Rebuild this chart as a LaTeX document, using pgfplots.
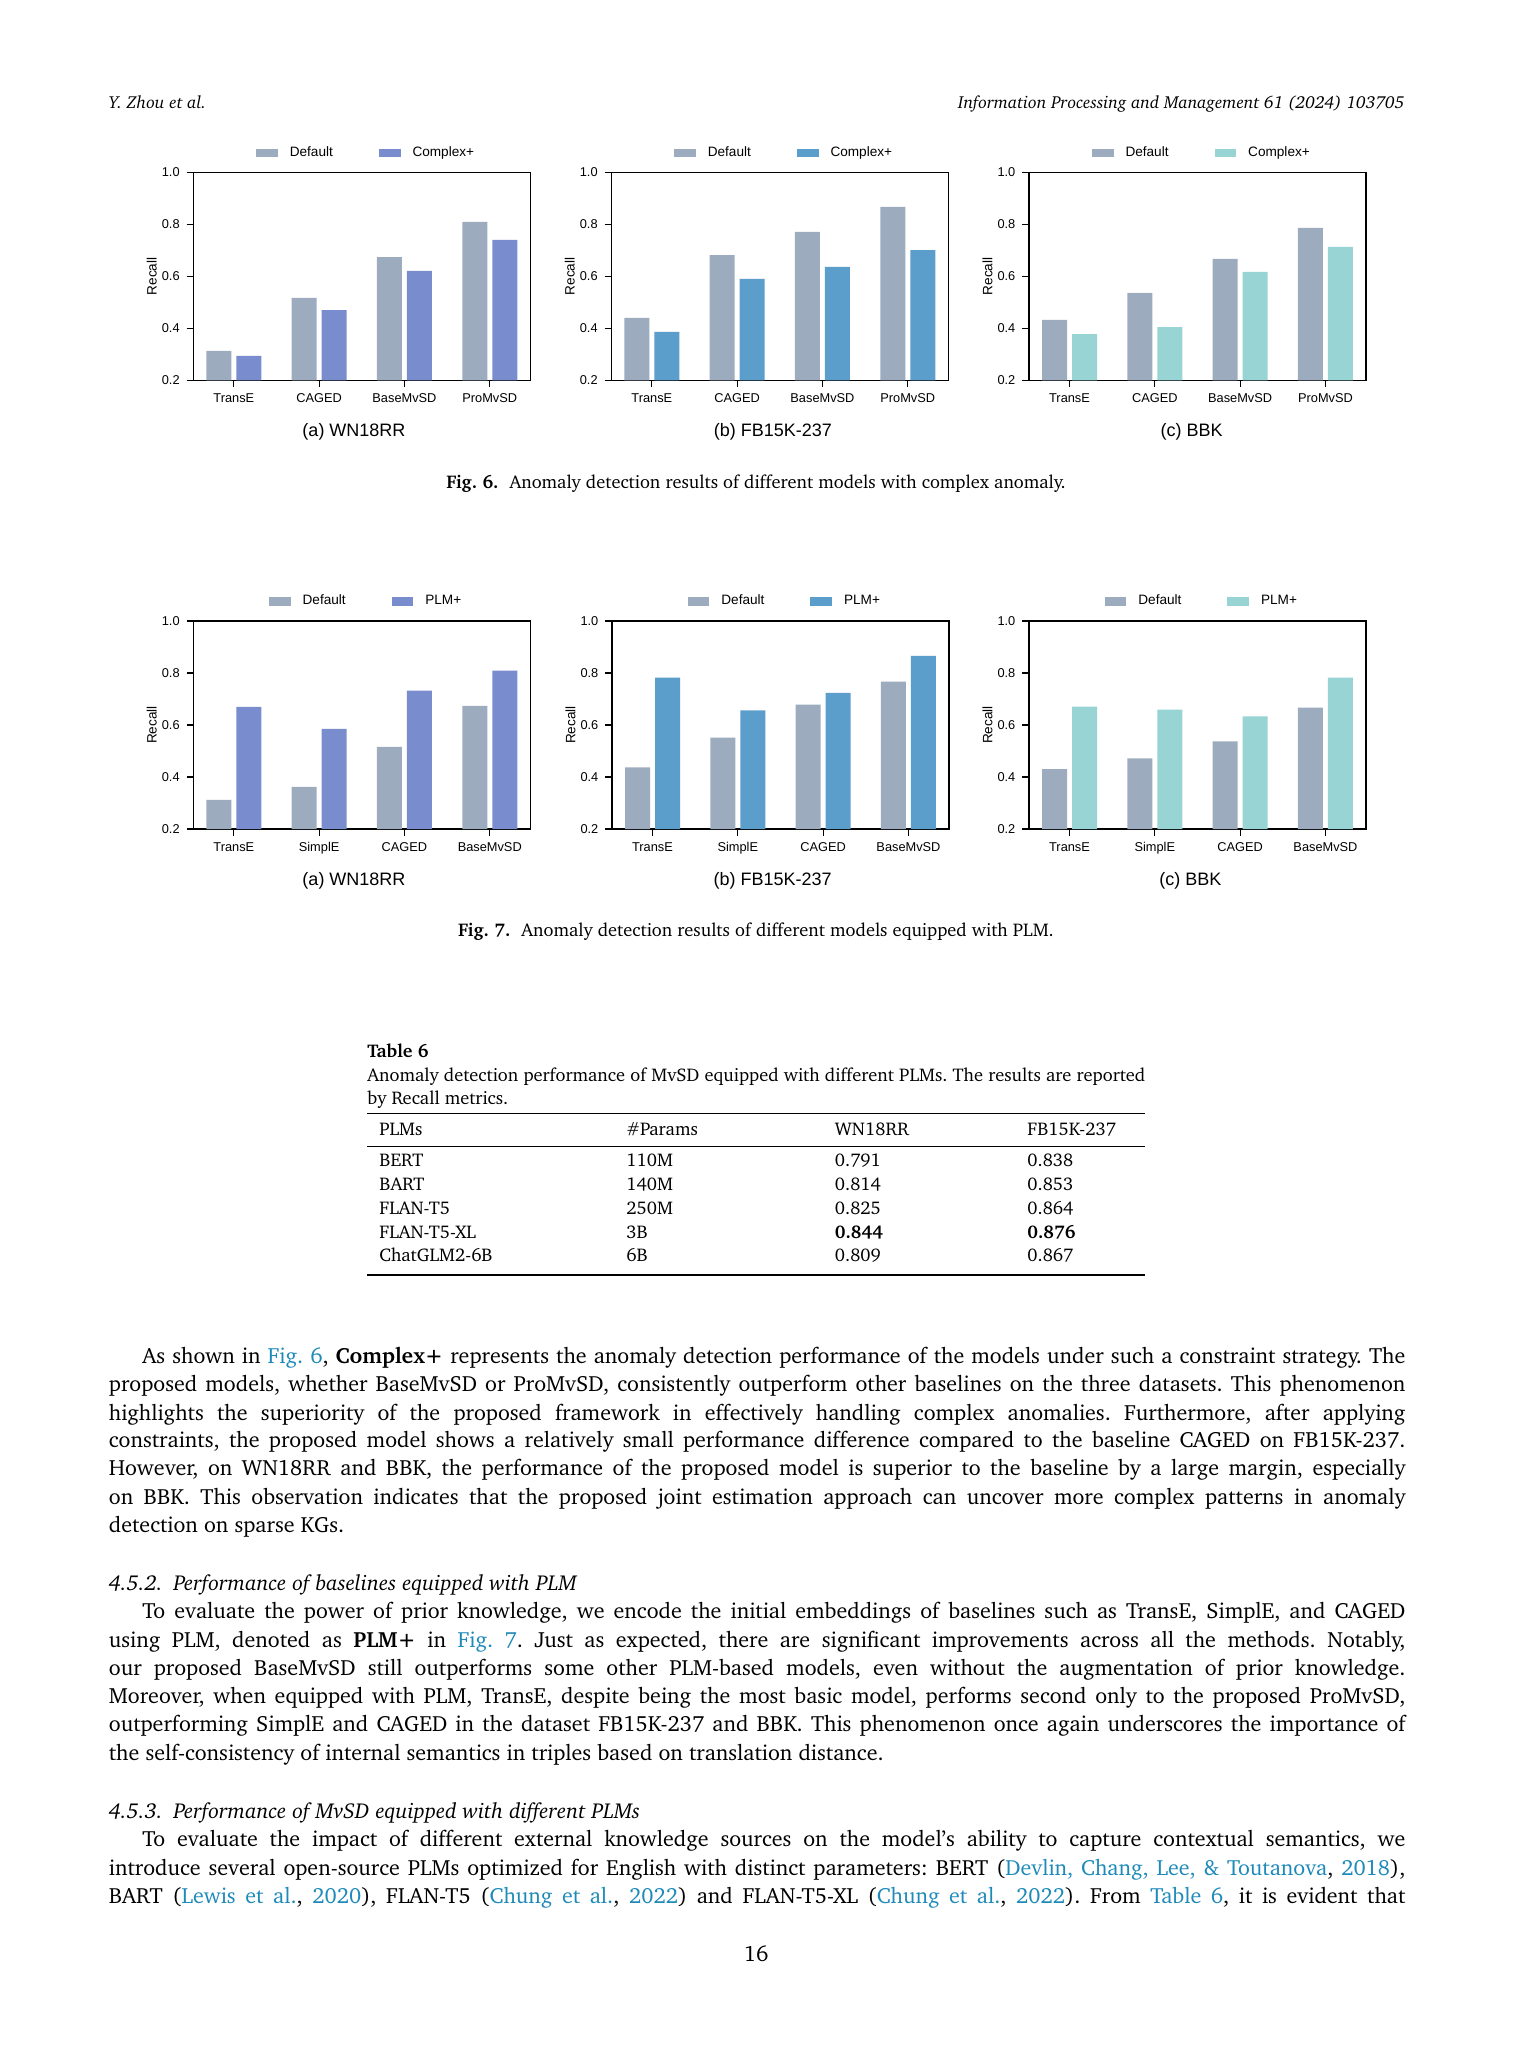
\documentclass[border=0pt]{standalone}
\usepackage[T1]{fontenc}
\usepackage{fontspec}
\setsansfont{Liberation Sans}
\usepackage{pgfplots}
\pgfplotsset{compat=1.18}
\definecolor{defc}{RGB}{157,171,190}
\definecolor{wnc}{RGB}{120,140,206}
\definecolor{fbc}{RGB}{92,158,203}
\definecolor{bbc}{RGB}{152,212,212}
\definecolor{linkc}{RGB}{30,138,185}
\frenchspacing
\newcommand\ch{\fontencoding{T1}\fontfamily{bch}\selectfont}
\newcommand\bodyf{\ch\fontsize{11pt}{14pt}\selectfont}
\newcommand\headf{\ch\fontsize{10.8pt}{14pt}\selectfont}
\newcommand\capf{\ch\fontsize{9.2pt}{11pt}\selectfont}
\newcommand\hdf{\ch\fontsize{8.7pt}{11pt}\selectfont}
\newcommand\lk[1]{\textcolor{linkc}{#1}}
\newcommand\BL[4]{\node[anchor=base west,inner sep=0pt] at (#1,#2) {\bodyf\makebox[#3][s]{#4}};}
\newcommand\LL[3]{\node[anchor=base west,inner sep=0pt] at (#1,#2) {\bodyf #3};}
\newcommand\sub[3]{\node[anchor=center,inner sep=0pt,font=\fontsize{9pt}{10pt}\selectfont\sffamily] at (#1,#2) {#3};}
\pgfplotsset{
 recall/.style={
  scale only axis, width=168.5pt, height=104pt, anchor=south west,
  xmin=-0.475, xmax=3.475, ymin=0.2, ymax=1.0,
  xtick={0,1,2,3}, ytick={0.2,0.4,0.6,0.8,1.0},
  tick align=outside, tick pos=left,
  major tick length=3.3pt,
  axis line style={line width=0.6pt, black},
  tick style={line width=0.6pt, black},
  tick label style={font=\fontsize{6.4pt}{7pt}\selectfont\sffamily},
  /pgf/number format/assume math mode=true,
  yticklabel style={/pgf/number format/fixed, /pgf/number format/fixed zerofill, /pgf/number format/precision=1},
  ylabel={Recall},
  every axis y label/.style={at={(axis description cs:0,0.5)}, xshift=-20.8pt, rotate=90, anchor=center, font=\fontsize{6.8pt}{7pt}\selectfont\sffamily},
  legend columns=2,
  legend cell align=left,
  legend style={at={(0.51,1.094)}, anchor=center, draw=none, fill=none, font=\fontsize{6.8pt}{7pt}\selectfont\sffamily, /tikz/every odd column/.append style={column sep=6pt}, /tikz/every even column/.append style={column sep=23pt}, nodes={inner sep=0pt}},
  legend image code/.code={\fill[##1] (0pt,-2.1pt) rectangle (10.8pt,2.1pt);},
 },
 dbar/.style={ybar, bar width=0.293, bar shift=-0.176, fill=defc, draw=none},
 pbar/.style={ybar, bar width=0.293, bar shift=0.176, fill=#1, draw=none},
}
\begin{document}
\begin{tikzpicture}
\begin{scope}[x=0.5pt,y=-0.5pt]
\fill[white] (0,0) rectangle (1512,2063);
\end{scope}
% ---------- Fig 6 ----------
\begin{axis}[recall, at={(96.65pt,-190.15pt)}, xticklabels={TransE,CAGED,BaseMvSD,ProMvSD}]
\addplot[dbar] coordinates {(0,0.313) (1,0.517) (2,0.674) (3,0.809)};
\addplot[pbar=wnc] coordinates {(0,0.294) (1,0.470) (2,0.621) (3,0.740)};
\legend{Default,Complex+}
\end{axis}
\begin{axis}[recall, at={(305.65pt,-190.15pt)}, xticklabels={TransE,CAGED,BaseMvSD,ProMvSD}]
\addplot[dbar] coordinates {(0,0.440) (1,0.682) (2,0.771) (3,0.867)};
\addplot[pbar=fbc] coordinates {(0,0.386) (1,0.590) (2,0.636) (3,0.701)};
\legend{Default,Complex+}
\end{axis}
\begin{axis}[recall, at={(514.5pt,-190.15pt)}, xticklabels={TransE,CAGED,BaseMvSD,ProMvSD}]
\addplot[dbar] coordinates {(0,0.432) (1,0.536) (2,0.667) (3,0.786)};
\addplot[pbar=bbc] coordinates {(0,0.378) (1,0.405) (2,0.617) (3,0.713)};
\legend{Default,Complex+}
\end{axis}
% ---------- Fig 7 ----------
\begin{axis}[recall, at={(96.65pt,-414.5pt)}, xticklabels={TransE,SimplE,CAGED,BaseMvSD}]
\addplot[dbar] coordinates {(0,0.312) (1,0.362) (2,0.516) (3,0.674)};
\addplot[pbar=wnc] coordinates {(0,0.670) (1,0.585) (2,0.732) (3,0.809)};
\legend{Default,PLM+}
\end{axis}
\begin{axis}[recall, at={(306pt,-414.5pt)}, xticklabels={TransE,SimplE,CAGED,BaseMvSD}]
\addplot[dbar] coordinates {(0,0.437) (1,0.552) (2,0.678) (3,0.767)};
\addplot[pbar=fbc] coordinates {(0,0.782) (1,0.656) (2,0.724) (3,0.866)};
\legend{Default,PLM+}
\end{axis}
\begin{axis}[recall, at={(514.5pt,-414.5pt)}, xticklabels={TransE,SimplE,CAGED,BaseMvSD}]
\addplot[dbar] coordinates {(0,0.430) (1,0.472) (2,0.537) (3,0.667)};
\addplot[pbar=bbc] coordinates {(0,0.671) (1,0.659) (2,0.633) (3,0.782)};
\legend{Default,PLM+}
\end{axis}
\begin{scope}[x=0.5pt,y=-0.5pt]
% header
\node[anchor=base west,inner sep=0pt] at (108.5,108.3) {\hdf\itshape Y. Zhou et al.};
\node[anchor=base east,inner sep=0pt] at (1405,108.3) {\hdf\itshape Information Processing and Management 61 (2024) 103705};
% subcaptions
\sub{354}{431.7}{(a) WN18RR}
\sub{773}{431.7}{(b) FB15K-237}
\sub{1191.7}{431.7}{(c) BBK}
\sub{354}{880.7}{(a) WN18RR}
\sub{772.7}{880.7}{(b) FB15K-237}
\sub{1190.3}{880.7}{(c) BBK}
% figure captions
\node[anchor=base,inner sep=0pt] at (756,488) {\capf\textbf{Fig. 6.}\hspace{0.6em}Anomaly detection results of different models with complex anomaly.};
\node[anchor=base,inner sep=0pt] at (756,936) {\capf\textbf{Fig. 7.}\hspace{0.6em}Anomaly detection results of different models equipped with PLM.};
% table
\node[anchor=base west,inner sep=0pt] at (367,1057.3) {\capf\bfseries Table 6};
\node[anchor=base west,inner sep=0pt] at (367,1081.5) {\capf\makebox[389pt][s]{Anomaly detection performance of MvSD equipped with different PLMs. The results are reported}};
\node[anchor=base west,inner sep=0pt] at (367,1104) {\capf by Recall metrics.};
\draw[line width=0.6pt] (367,1113.3) -- (1145,1113.3);
\draw[line width=0.45pt] (367,1146.7) -- (1145,1146.7);
\draw[line width=0.6pt] (367,1275) -- (1145,1275);
\foreach \y/\a/\b/\c/\d in {1135/PLMs/\#Params/WN18RR/FB15K-237,
  1166.7/BERT/110M/0.791/0.838, 1190.7/BART/140M/0.814/0.853,
  1214/FLAN-T5/250M/0.825/0.864, 1238.3/FLAN-T5-XL/3B/\textbf{0.844}/\textbf{0.876},
  1261.7/ChatGLM2-6B/6B/0.809/0.867}{
  \node[anchor=base west,inner sep=0pt] at (379,\y) {\capf \a};
  \node[anchor=base west,inner sep=0pt] at (626,\y) {\capf \b};
  \node[anchor=base west,inner sep=0pt] at (834.5,\y) {\capf \c};
  \node[anchor=base west,inner sep=0pt] at (1027,\y) {\capf \d};
}
% paragraph 1
\BL{142}{1363.3}{631.5pt}{As shown in \lk{Fig. 6}, \textbf{Complex+} represents the anomaly detection performance of the models under such a constraint strategy. The}
\BL{108.5}{1391.7}{648.3pt}{proposed models, whether BaseMvSD or ProMvSD, consistently outperform other baselines on the three datasets. This phenomenon}
\BL{108.5}{1420}{648.3pt}{highlights the superiority of the proposed framework in effectively handling complex anomalies. Furthermore, after applying}
\BL{108.5}{1447.5}{648.3pt}{constraints, the proposed model shows a relatively small performance difference compared to the baseline CAGED on FB15K-237.}
\BL{108.5}{1475.7}{648.3pt}{However, on WN18RR and BBK, the performance of the proposed model is superior to the baseline by a large margin, especially}
\BL{108.5}{1504}{648.3pt}{on BBK. This observation indicates that the proposed joint estimation approach can uncover more complex patterns in anomaly}
\LL{108.5}{1532.3}{detection on sparse KGs.}
% 4.5.2
\node[anchor=base west,inner sep=0pt] at (108.5,1590.7) {\headf\itshape 4.5.2.\hspace{0.5em}Performance of baselines equipped with PLM};
\BL{142}{1618.3}{631.5pt}{To evaluate the power of prior knowledge, we encode the initial embeddings of baselines such as TransE, SimplE, and CAGED}
\BL{108.5}{1647.3}{648.3pt}{using PLM, denoted as \textbf{PLM+} in \lk{Fig. 7}. Just as expected, there are significant improvements across all the methods. Notably,}
\BL{108.5}{1675}{648.3pt}{our proposed BaseMvSD still outperforms some other PLM-based models, even without the augmentation of prior knowledge.}
\BL{108.5}{1703.3}{648.3pt}{Moreover, when equipped with PLM, TransE, despite being the most basic model, performs second only to the proposed ProMvSD,}
\BL{108.5}{1731.7}{648.3pt}{outperforming SimplE and CAGED in the dataset FB15K-237 and BBK. This phenomenon once again underscores the importance of}
\LL{108.5}{1760}{the self-consistency of internal semantics in triples based on translation distance.}
% 4.5.3
\node[anchor=base west,inner sep=0pt] at (108.5,1818.3) {\headf\itshape 4.5.3.\hspace{0.5em}Performance of MvSD equipped with different PLMs};
\BL{142}{1846}{631.5pt}{To evaluate the impact of different external knowledge sources on the model's ability to capture contextual semantics, we}
\BL{108.5}{1875}{648.3pt}{introduce several open-source PLMs optimized for English with distinct parameters: BERT (\lk{Devlin, Chang, Lee, \& Toutanova}, \lk{2018}),}
\BL{108.5}{1903.3}{648.3pt}{BART (\lk{Lewis et al.}, \lk{2020}), FLAN-T5 (\lk{Chung et al.}, \lk{2022}) and FLAN-T5-XL (\lk{Chung et al.}, \lk{2022}). From \lk{Table 6}, it is evident that}
\node[anchor=base,inner sep=0pt] at (756,1961.7) {\bodyf 16};
\end{scope}
\end{tikzpicture}
\end{document}
